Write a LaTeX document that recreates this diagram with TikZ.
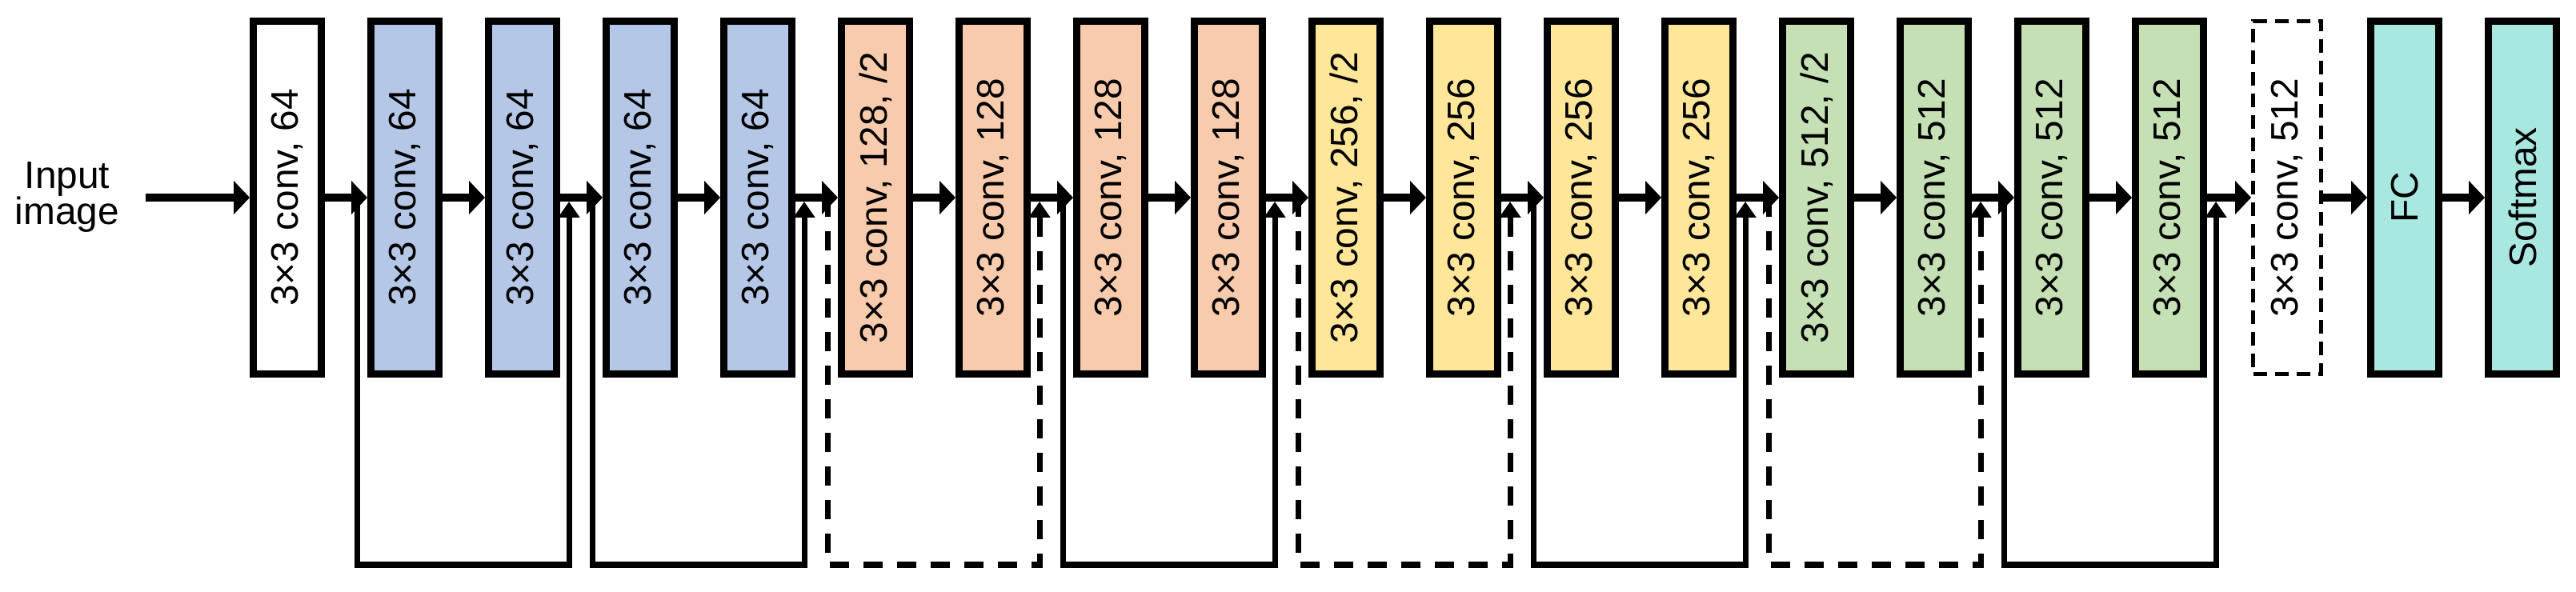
\documentclass[tikz,border=0pt]{standalone}
\usepackage{fontspec}
\setmainfont{Liberation Sans}
\usepackage{graphicx}
\usetikzlibrary{arrows.meta,positioning}

\definecolor{blue64}{HTML}{B4C7E7}
\definecolor{orange128}{HTML}{F8CBAD}
\definecolor{yellow256}{HTML}{FFE699}
\definecolor{green512}{HTML}{C5E0B4}
\definecolor{tealfc}{HTML}{A9E8E0}

\begin{document}
\begin{tikzpicture}[
    conv/.style={draw, line width=0.09cm, minimum width=0.85cm, minimum height=4.41cm,
        inner sep=0pt, font=\fontsize{13.6pt}{16.3pt}\selectfont},
    mainarrow/.style={line width=0.1cm, -{Triangle[length=0.2cm, width=0.41cm]}},
    shortcut/.style={line width=0.07cm, -{Triangle[length=0.2cm, width=0.26cm]}, shorten >=0.05cm},
    projection/.style={shortcut, dash pattern=on 0.24cm off 0.18cm}
]
    \useasboundingbox (0,0) rectangle (32.19,7.39);

    % Draw the input
    \node[align=center, font=\fontsize{13.6pt}{12.8pt}\selectfont] (input) at (0.84,4.92) {Input\\image};
    \coordinate (in) at (1.82,4.92);

    % Draw the layers
    \node[conv] (c1) at (3.59,4.92) {\rotatebox{90}{3×3 conv, 64}};
    \node[conv, fill=blue64] (c2) at (5.06,4.92) {\rotatebox{90}{3×3 conv, 64}};
    \node[conv, fill=blue64] (c3) at (6.53,4.92) {\rotatebox{90}{3×3 conv, 64}};
    \node[conv, fill=blue64] (c4) at (8.00,4.92) {\rotatebox{90}{3×3 conv, 64}};
    \node[conv, fill=blue64] (c5) at (9.47,4.92) {\rotatebox{90}{3×3 conv, 64}};
    \node[conv, fill=orange128] (c6) at (10.94,4.92) {\rotatebox{90}{3×3 conv, 128, /2}};
    \node[conv, fill=orange128] (c7) at (12.41,4.92) {\rotatebox{90}{3×3 conv, 128}};
    \node[conv, fill=orange128] (c8) at (13.88,4.92) {\rotatebox{90}{3×3 conv, 128}};
    \node[conv, fill=orange128] (c9) at (15.35,4.92) {\rotatebox{90}{3×3 conv, 128}};
    \node[conv, fill=yellow256] (c10) at (16.82,4.92) {\rotatebox{90}{3×3 conv, 256, /2}};
    \node[conv, fill=yellow256] (c11) at (18.29,4.92) {\rotatebox{90}{3×3 conv, 256}};
    \node[conv, fill=yellow256] (c12) at (19.76,4.92) {\rotatebox{90}{3×3 conv, 256}};
    \node[conv, fill=yellow256] (c13) at (21.23,4.92) {\rotatebox{90}{3×3 conv, 256}};
    \node[conv, fill=green512] (c14) at (22.70,4.92) {\rotatebox{90}{3×3 conv, 512, /2}};
    \node[conv, fill=green512] (c15) at (24.17,4.92) {\rotatebox{90}{3×3 conv, 512}};
    \node[conv, fill=green512] (c16) at (25.64,4.92) {\rotatebox{90}{3×3 conv, 512}};
    \node[conv, fill=green512] (c17) at (27.11,4.92) {\rotatebox{90}{3×3 conv, 512}};
    \node[conv, line width=0.05cm, dash pattern=on 0.17cm off 0.1cm] (c18) at (28.58,4.92) {\rotatebox{90}{3×3 conv, 512}};
    \node[conv, fill=tealfc] (fc) at (30.05,4.92) {\rotatebox{90}{FC}};
    \node[conv, fill=tealfc] (sm) at (31.52,4.92) {\rotatebox{90}{Softmax}};

    % Draw the main path
    \draw[mainarrow] (in) -- (c1.west);
    \draw[mainarrow] (c1.east) -- (c2.west);
    \draw[mainarrow] (c2.east) -- (c3.west);
    \draw[mainarrow] (c3.east) -- (c4.west);
    \draw[mainarrow] (c4.east) -- (c5.west);
    \draw[mainarrow] (c5.east) -- (c6.west);
    \draw[mainarrow] (c6.east) -- (c7.west);
    \draw[mainarrow] (c7.east) -- (c8.west);
    \draw[mainarrow] (c8.east) -- (c9.west);
    \draw[mainarrow] (c9.east) -- (c10.west);
    \draw[mainarrow] (c10.east) -- (c11.west);
    \draw[mainarrow] (c11.east) -- (c12.west);
    \draw[mainarrow] (c12.east) -- (c13.west);
    \draw[mainarrow] (c13.east) -- (c14.west);
    \draw[mainarrow] (c14.east) -- (c15.west);
    \draw[mainarrow] (c15.east) -- (c16.west);
    \draw[mainarrow] (c16.east) -- (c17.west);
    \draw[mainarrow] (c17.east) -- (c18.west);
    \draw[mainarrow] (c18.east) -- (fc.west);
    \draw[mainarrow] (fc.east) -- (sm.west);

    % Define the shortcut ends
    \coordinate[left=0.13cm of c2.west] (s1);  \coordinate[right=0.11cm of c3.east] (e1);
    \coordinate[left=0.13cm of c4.west] (s2);  \coordinate[right=0.11cm of c5.east] (e2);
    \coordinate[left=0.13cm of c6.west] (s3);  \coordinate[right=0.11cm of c7.east] (e3);
    \coordinate[left=0.13cm of c8.west] (s4);  \coordinate[right=0.11cm of c9.east] (e4);
    \coordinate[left=0.13cm of c10.west] (s5); \coordinate[right=0.11cm of c11.east] (e5);
    \coordinate[left=0.13cm of c12.west] (s6); \coordinate[right=0.11cm of c13.east] (e6);
    \coordinate[left=0.13cm of c14.west] (s7); \coordinate[right=0.11cm of c15.east] (e7);
    \coordinate[left=0.13cm of c16.west] (s8); \coordinate[right=0.11cm of c17.east] (e8);

    % Draw the shortcuts
    \draw[shortcut] (s1) -- ++(0,-4.59) -| (e1);
    \draw[shortcut] (s2) -- ++(0,-4.59) -| (e2);
    \draw[projection] (s3) -- ++(0,-4.59) -| (e3);
    \draw[shortcut] (s4) -- ++(0,-4.59) -| (e4);
    \draw[projection] (s5) -- ++(0,-4.59) -| (e5);
    \draw[shortcut] (s6) -- ++(0,-4.59) -| (e6);
    \draw[projection] (s7) -- ++(0,-4.59) -| (e7);
    \draw[shortcut] (s8) -- ++(0,-4.59) -| (e8);
\end{tikzpicture}
\end{document}
